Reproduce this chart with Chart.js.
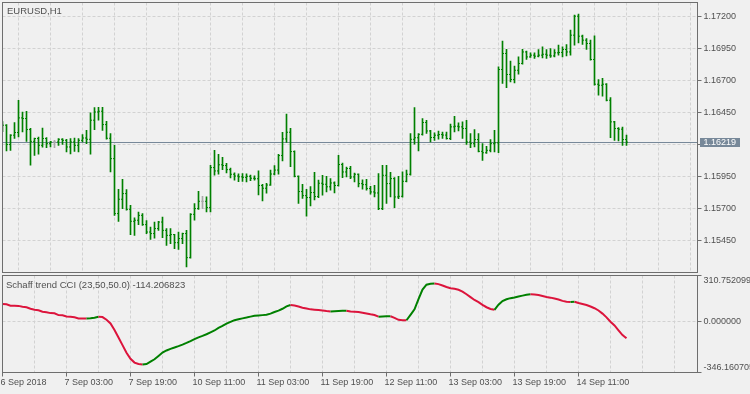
<!DOCTYPE html>
<html><head><meta charset="utf-8">
<script src="https://cdn.jsdelivr.net/npm/chart.js@4.4.0/dist/chart.umd.min.js"></script>
<style>
html,body{margin:0;padding:0;background:#f0f0f0;width:750px;height:394px;overflow:hidden;}
canvas{position:absolute;left:0;}
#c1{top:0;} #c2{top:274px;}
</style></head><body>
<canvas id="c1" width="750" height="274"></canvas>
<canvas id="c2" width="750" height="120"></canvas>
<script>
const symbolTitle = "EURUSD,H1";
const indicatorName = "Schaff trend CCI (23,50,50.0)";
const timeLabels = ["6 Sep 2018","7 Sep 03:00","7 Sep 19:00","10 Sep 11:00","11 Sep 03:00","11 Sep 19:00","12 Sep 11:00","13 Sep 03:00","13 Sep 19:00","14 Sep 11:00"];
const barsPerLabel = 16;
const barsPerGrid = 8;
const priceTicks = [1.1545, 1.157, 1.1595, 1.162, 1.1645, 1.167, 1.1695, 1.172];
const stcTicks = [-346.160705, 0, 310.752099];

const opens = [1.16330,1.16351,1.16200,1.16273,1.16294,1.16408,1.16403,1.16317,1.16225,1.16247,
1.16194,1.16247,1.16207,1.16220,1.16220,1.16241,1.16233,1.16181,1.16220,1.16194,
1.16233,1.16251,1.16241,1.16390,1.16454,1.16460,1.16356,1.16249,1.16090,1.15661,
1.15773,1.15817,1.15694,1.15601,1.15609,1.15647,1.15575,1.15517,1.15505,1.15544,
1.15595,1.15530,1.15491,1.15497,1.15434,1.15466,1.15505,1.15317,1.15655,1.15700,
1.15757,1.15757,1.15708,1.16020,1.15994,1.16042,1.16036,1.16004,1.15968,1.15954,
1.15948,1.15944,1.15952,1.15937,1.15933,1.15880,1.15859,1.15884,1.15970,1.16001,
1.16114,1.16244,1.16296,1.16145,1.15952,1.15833,1.15801,1.15786,1.15825,1.15794,
1.15898,1.15890,1.15870,1.15900,1.15880,1.16044,1.15986,1.16013,1.15947,1.15968,
1.15895,1.15887,1.15856,1.15830,1.15822,1.15700,1.15960,1.15895,1.15934,1.15791,
1.15796,1.15913,1.15968,1.16241,1.16253,1.16280,1.16372,1.16306,1.16255,1.16273,
1.16278,1.16274,1.16247,1.16338,1.16343,1.16338,1.16325,1.16220,1.16207,1.16239,
1.16147,1.16136,1.16155,1.16207,1.16213,1.16786,1.16911,1.16747,1.16708,1.16780,
1.16833,1.16923,1.16884,1.16898,1.16890,1.16898,1.16905,1.16898,1.16892,1.16916,
1.16919,1.16942,1.16923,1.17054,1.17202,1.17046,1.17015,1.16989,1.16864,1.16671,
1.16663,1.16671,1.16546,1.16377,1.16325,1.16320,1.16239];
const highs = [1.16380,1.16356,1.16278,1.16372,1.16546,1.16454,1.16460,1.16327,1.16251,1.16259,
1.16329,1.16254,1.16225,1.16233,1.16247,1.16247,1.16240,1.16247,1.16251,1.16247,
1.16278,1.16311,1.16447,1.16489,1.16491,1.16491,1.16382,1.16286,1.16194,1.15851,
1.15929,1.15848,1.15726,1.15627,1.15673,1.15661,1.15606,1.15556,1.15595,1.15601,
1.15634,1.15544,1.15544,1.15499,1.15517,1.15509,1.15530,1.15661,1.15739,1.15835,
1.15796,1.15791,1.16038,1.16155,1.16124,1.16101,1.16054,1.16016,1.15980,1.15972,
1.15973,1.15972,1.15962,1.15955,1.15994,1.15890,1.15898,1.16001,1.16036,1.16124,
1.16296,1.16437,1.16327,1.16150,1.15956,1.15890,1.15851,1.15872,1.15984,1.15923,
1.15960,1.15952,1.15934,1.15908,1.16116,1.16056,1.16025,1.16030,1.15978,1.15972,
1.15925,1.15929,1.15874,1.15882,1.15973,1.16038,1.16038,1.15984,1.15942,1.15952,
1.15986,1.16000,1.16286,1.16489,1.16286,1.16403,1.16390,1.16311,1.16291,1.16306,
1.16298,1.16298,1.16359,1.16421,1.16369,1.16377,1.16390,1.16286,1.16317,1.16286,
1.16207,1.16187,1.16239,1.16311,1.16806,1.17007,1.16944,1.16851,1.16812,1.16884,
1.16944,1.16929,1.16916,1.16916,1.16942,1.16962,1.16942,1.16950,1.16942,1.16976,
1.16962,1.16981,1.17093,1.17210,1.17218,1.17054,1.17028,1.17015,1.17048,1.16708,
1.16716,1.16675,1.16567,1.16382,1.16333,1.16337,1.16273];
const lows = [1.16300,1.16150,1.16155,1.16247,1.16259,1.16298,1.16225,1.16038,1.16116,1.16124,
1.16180,1.16176,1.16181,1.16176,1.16194,1.16200,1.16142,1.16126,1.16147,1.16142,
1.16220,1.16207,1.16124,1.16317,1.16390,1.16311,1.16241,1.15986,1.15647,1.15600,
1.15700,1.15687,1.15497,1.15491,1.15575,1.15569,1.15505,1.15460,1.15470,1.15530,
1.15473,1.15413,1.15427,1.15387,1.15382,1.15427,1.15244,1.15312,1.15609,1.15694,
1.15700,1.15673,1.15673,1.15960,1.15968,1.16003,1.15978,1.15940,1.15921,1.15911,
1.15913,1.15909,1.15917,1.15921,1.15806,1.15759,1.15820,1.15880,1.15962,1.15968,
1.16072,1.16216,1.16028,1.15948,1.15741,1.15780,1.15640,1.15720,1.15767,1.15785,
1.15804,1.15830,1.15843,1.15822,1.15875,1.15942,1.15947,1.15934,1.15908,1.15869,
1.15851,1.15843,1.15812,1.15791,1.15692,1.15692,1.15741,1.15791,1.15708,1.15778,
1.15790,1.15908,1.15960,1.16202,1.16150,1.16273,1.16286,1.16220,1.16233,1.16241,
1.16247,1.16241,1.16239,1.16298,1.16306,1.16247,1.16200,1.16176,1.16181,1.16142,
1.16077,1.16130,1.16142,1.16142,1.16136,1.16677,1.16645,1.16689,1.16681,1.16749,
1.16827,1.16864,1.16880,1.16872,1.16884,1.16877,1.16872,1.16880,1.16884,1.16898,
1.16884,1.16892,1.16898,1.16976,1.16994,1.16981,1.16942,1.16859,1.16663,1.16585,
1.16577,1.16541,1.16254,1.16233,1.16228,1.16194,1.16194];
const closes = [1.16351,1.16200,1.16273,1.16294,1.16408,1.16403,1.16317,1.16225,1.16247,1.16194,
1.16247,1.16207,1.16220,1.16220,1.16241,1.16233,1.16181,1.16220,1.16194,1.16233,
1.16251,1.16241,1.16390,1.16454,1.16460,1.16356,1.16249,1.16090,1.15661,1.15773,
1.15817,1.15694,1.15601,1.15609,1.15647,1.15575,1.15517,1.15505,1.15544,1.15595,
1.15530,1.15491,1.15497,1.15434,1.15466,1.15505,1.15317,1.15655,1.15700,1.15757,
1.15757,1.15708,1.16020,1.15994,1.16042,1.16036,1.16004,1.15968,1.15954,1.15948,
1.15944,1.15952,1.15937,1.15933,1.15880,1.15859,1.15884,1.15970,1.16001,1.16114,
1.16244,1.16296,1.16145,1.15952,1.15833,1.15801,1.15786,1.15825,1.15794,1.15898,
1.15890,1.15870,1.15900,1.15880,1.16044,1.15986,1.16013,1.15947,1.15968,1.15895,
1.15887,1.15856,1.15830,1.15822,1.15700,1.15960,1.15895,1.15934,1.15791,1.15796,
1.15913,1.15968,1.16241,1.16253,1.16280,1.16372,1.16306,1.16255,1.16273,1.16278,
1.16274,1.16247,1.16338,1.16343,1.16338,1.16325,1.16220,1.16207,1.16239,1.16147,
1.16136,1.16155,1.16207,1.16213,1.16786,1.16911,1.16747,1.16708,1.16780,1.16833,
1.16923,1.16884,1.16898,1.16890,1.16898,1.16905,1.16898,1.16892,1.16916,1.16919,
1.16942,1.16923,1.17054,1.17202,1.17046,1.17015,1.16989,1.16864,1.16671,1.16663,
1.16671,1.16546,1.16377,1.16325,1.16320,1.16239,1.16219];
const stcValues = [117.7,116,106,106,105,99,96,85.5,78.7,75,
65,61.6,56,54.7,42.4,41,32.8,30.8,27.4,19.2,
19.2,19.2,21.2,24,30.8,29.4,11.6,-13.7,-58,-109.5,
-160.8,-212,-253,-279,-288.8,-292.2,-288.8,-272.3,-256.6,-234,
-210.8,-197,-186,-177.2,-167.7,-157.4,-145.8,-133.4,-119.8,-108.1,
-97.9,-86.9,-73.9,-61.6,-44.5,-30.8,-15.7,-3.4,8.2,15,
20.5,26,32.2,37.6,40.4,42.4,44.5,52.7,63.6,73.2,
85.5,101.3,110.9,107.5,100.6,92.4,86.9,81.4,78.7,76.6,
73.2,69.8,67.1,69.1,70.5,71.9,72.5,66.4,65,63.6,
58.2,53.4,47.9,43.1,32.2,33.5,34.2,34.9,24,10.3,
8.2,7.5,44.5,82.1,150.5,215.6,248.4,254.6,256.6,252.5,
243,232.7,224.4,221,214.2,201.9,184,164.2,145.1,130,
111.5,95.8,84.2,78.7,112.9,138.2,149.9,157.4,162.2,169,
174.5,180,184.1,182.7,179.3,172.4,165.6,160.8,155.3,148.5,
138.9,133.4,131.4,133.4,124.5,117.7,110.9,100.6,89,73.9,
52.7,27.4,-2.1,-27.4,-60.2,-92.4,-114.206823];

const GREEN = '#008000', GREY = '#a8a8a8', RED = '#dc143c';
const FRAME = '#6e6e6e', GRID = '#d2d2d2', TEXT = '#505050', PRICE = '#778899';
const FONT = {family: '"Liberation Sans", Arial, sans-serif', size: 9};
const FONTSTR = '9.5px "Liberation Sans", Arial, sans-serif';
const X_MIN = 0, X_MAX = 173.75;
const idx = opens.map((_, i) => i);
const barColor = i => opens[i] === closes[i] ? GREY : GREEN;
const gridTicks = [];
for (let v = 0; v <= X_MAX; v += barsPerGrid) gridTicks.push(v);
const labelAt = v => (v % barsPerLabel === 0 && timeLabels[v / barsPerLabel]) ? timeLabels[v / barsPerLabel] : '';
const lastClose = closes[closes.length - 1];
const lastStc = stcValues[stcValues.length - 1];
const CLEAR = 'rgba(0,0,0,0)';

const framePlugin = {
  id: 'frame',
  afterDraw(chart) {
    const a = chart.chartArea, ctx = chart.ctx;
    ctx.save(); ctx.strokeStyle = FRAME; ctx.lineWidth = 1;
    ctx.strokeRect(a.left, a.top, a.right - a.left, a.bottom - a.top);
    ctx.restore();
  }
};
function titlePlugin(textFn, x, y) {
  return { id: 'ttl', afterDraw(chart) {
    const ctx = chart.ctx; ctx.save(); ctx.font = FONTSTR; ctx.fillStyle = TEXT;
    ctx.textBaseline = 'alphabetic'; ctx.textAlign = 'left';
    ctx.fillText(textFn(), x, y); ctx.restore(); } };
}
const priceLinePlugin = {
  id: 'priceLine',
  beforeDatasetsDraw(chart) {
    const a = chart.chartArea, ctx = chart.ctx, y = chart.scales.y;
    const py = Math.round(y.getPixelForValue(lastClose) - 0.5) + 0.5;
    ctx.save(); ctx.strokeStyle = PRICE; ctx.lineWidth = 1;
    ctx.beginPath(); ctx.moveTo(a.left, py); ctx.lineTo(a.right, py); ctx.stroke(); ctx.restore();
  },
  afterDraw(chart) {
    const a = chart.chartArea, ctx = chart.ctx, y = chart.scales.y;
    const py = Math.round(y.getPixelForValue(lastClose) - 0.5);
    ctx.save(); ctx.fillStyle = PRICE; ctx.fillRect(a.right + 2.5, py - 4, 40, 9);
    ctx.font = '9px "Liberation Sans", Arial, sans-serif'; ctx.fillStyle = '#ffffff';
    ctx.textBaseline = 'middle'; ctx.textAlign = 'left';
    ctx.fillText(lastClose.toFixed(5), a.right + 6, py + 0.5); ctx.restore();
  }
};
const edgeLabelPlugin = {
  id: 'edgeLabels',
  beforeDraw(chart) {
    const s = chart.scales.y; const items = s.getLabelItems();
    items.forEach((it, i) => {
      const v = s.ticks[i].value;
      if (v === s.max) it.options.translation[1] += 5;
      else if (v === s.min) it.options.translation[1] -= 5;
    });
  }
};
function zeroPad(s) { s.paddingTop = 0; s.paddingBottom = 0; s.paddingLeft = 0; s.paddingRight = 0; }

new Chart(document.getElementById('c1'), {
  type: 'bar',
  data: { datasets: [
    { type: 'bar', data: idx.map(i => ({x: i, y: [lows[i], highs[i]]})),
      backgroundColor: idx.map(barColor), barThickness: 1, borderWidth: 0 },
    { type: 'line', showLine: false, data: idx.map(i => ({x: i - 0.25, y: opens[i]})),
      pointStyle: 'line', pointRadius: 0.5, pointBorderWidth: 1, pointBorderColor: idx.map(barColor), pointHoverRadius: 0 },
    { type: 'line', showLine: false, data: idx.map(i => ({x: i + 0.25, y: closes[i]})),
      pointStyle: 'line', pointRadius: 0.5, pointBorderWidth: 1, pointBorderColor: idx.map(barColor), pointHoverRadius: 0 }
  ]},
  options: {
    responsive: false, devicePixelRatio: 1, animation: false, events: [],
    layout: { padding: { left: 2.5, top: 2.5, right: 0, bottom: 0.5 } },
    plugins: { legend: { display: false }, tooltip: { enabled: false } },
    scales: {
      x: { type: 'linear', min: X_MIN, max: X_MAX, offset: false,
        afterBuildTicks: s => { s.ticks = gridTicks.map(v => ({value: v})); },
        afterFit: s => { s.height = 0; zeroPad(s); },
        ticks: { display: false },
        grid: { color: c => (c.tick && c.tick.value === 0) ? CLEAR : GRID, drawTicks: false, lineWidth: 1 },
        border: { display: false, dash: [3, 2] } },
      y: { position: 'right', min: 1.15201, max: 1.17309,
        afterBuildTicks: s => { s.ticks = priceTicks.map(v => ({value: v})); },
        afterFit: s => { s.width = 52.5; zeroPad(s); },
        ticks: { callback: v => Number(v).toFixed(5), color: TEXT, font: FONT, padding: 2 },
        grid: { color: GRID, tickColor: FRAME, tickLength: 4, lineWidth: 1 },
        border: { display: false, dash: [3, 2] } }
    }
  },
  plugins: [priceLinePlugin, framePlugin, titlePlugin(() => symbolTitle, 7, 13.5)]
});

new Chart(document.getElementById('c2'), {
  type: 'line',
  data: { datasets: [{
    data: idx.map(i => ({x: i, y: stcValues[i]})),
    borderWidth: 2, pointRadius: 0, tension: 0, fill: false, borderColor: RED,
    segment: { borderColor: c => c.p1.parsed.y > c.p0.parsed.y ? GREEN : RED }
  }]},
  options: {
    responsive: false, devicePixelRatio: 1, animation: false, events: [],
    layout: { padding: { left: 2.5, top: 1.5, right: 0, bottom: 0 } },
    plugins: { legend: { display: false }, tooltip: { enabled: false } },
    scales: {
      x: { type: 'linear', min: X_MIN, max: X_MAX, offset: false,
        afterBuildTicks: s => { s.ticks = gridTicks.map(v => ({value: v})); },
        afterFit: s => { s.height = 21.5; zeroPad(s); },
        ticks: { autoSkip: false, maxRotation: 0, minRotation: 0, align: 'start', labelOffset: -2,
          callback: v => labelAt(v), color: TEXT, font: FONT, padding: 1 },
        grid: { color: c => (c.tick && c.tick.value === 0) ? CLEAR : GRID,
          tickColor: c => (c.tick && labelAt(c.tick.value)) ? FRAME : CLEAR, tickLength: 4, lineWidth: 1 },
        border: { display: false, dash: [3, 2] } },
      y: { position: 'right', min: stcTicks[0], max: stcTicks[2],
        afterBuildTicks: s => { s.ticks = stcTicks.map(v => ({value: v})); },
        afterFit: s => { s.width = 52.5; zeroPad(s); },
        ticks: { callback: v => Number(v).toFixed(6), color: TEXT, font: FONT, padding: 2 },
        grid: { color: c => (c.tick && c.tick.value === 0) ? GRID : CLEAR, tickColor: FRAME, tickLength: 4, lineWidth: 1 },
        border: { display: false, dash: [3, 2] } }
    }
  },
  plugins: [edgeLabelPlugin, framePlugin, titlePlugin(() => indicatorName + ' ' + lastStc.toFixed(6), 6, 13.5)]
});
</script>
</body></html>
